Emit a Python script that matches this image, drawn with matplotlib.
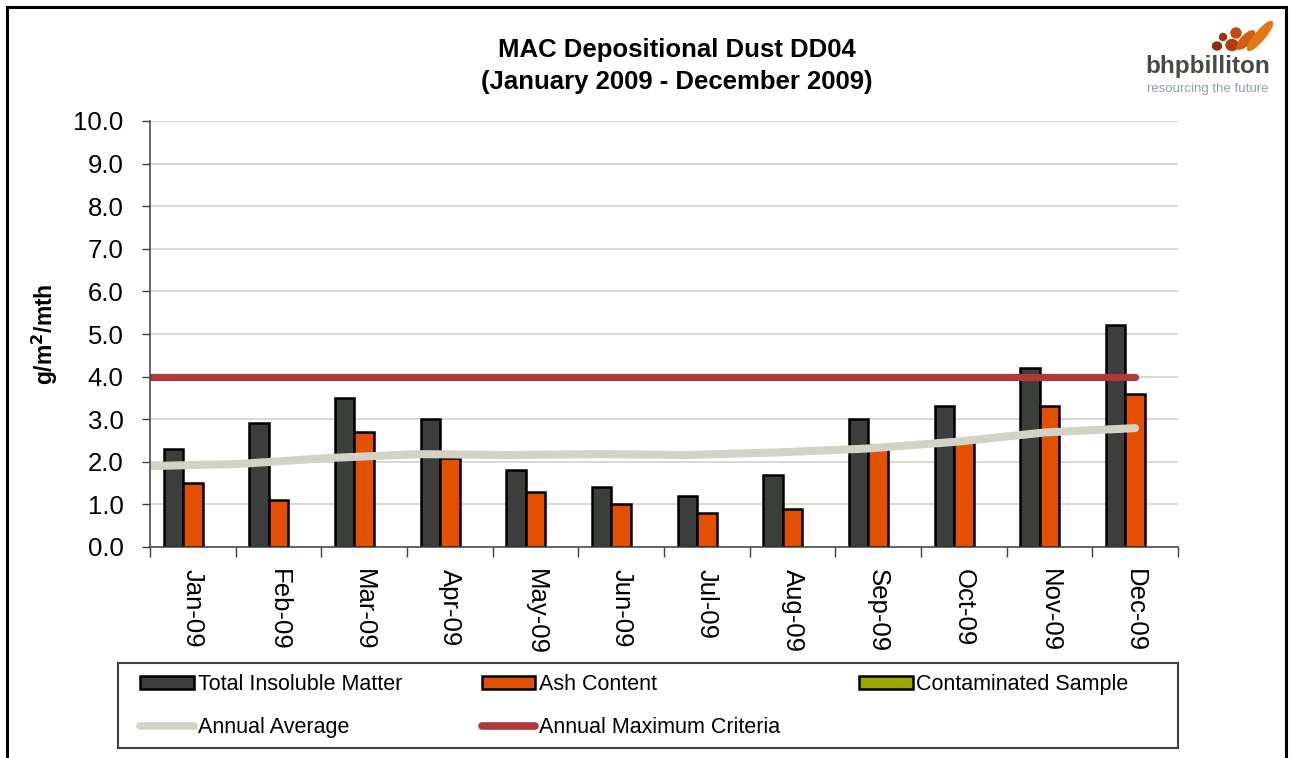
import matplotlib
matplotlib.use("Agg")
import matplotlib.pyplot as plt
import numpy as np
from matplotlib.patches import Patch, Rectangle, Ellipse
from matplotlib.lines import Line2D

plt.rcParams['font.family'] = ['Liberation Sans', 'DejaVu Sans']

months = ["Jan-09", "Feb-09", "Mar-09", "Apr-09", "May-09", "Jun-09",
          "Jul-09", "Aug-09", "Sep-09", "Oct-09", "Nov-09", "Dec-09"]
total_insoluble = [2.3, 2.9, 3.5, 3.0, 1.8, 1.4, 1.2, 1.7, 3.0, 3.3, 4.2, 5.2]
ash_content = [1.5, 1.1, 2.7, 2.1, 1.3, 1.0, 0.8, 0.9, 2.4, 2.5, 3.3, 3.6]
contaminated = [0, 0, 0, 0, 0, 0, 0, 0, 0, 0, 0, 0]
annual_average = [1.90, 1.95, 2.09, 2.18, 2.16, 2.18, 2.16, 2.22, 2.31, 2.47, 2.69, 2.79]
annual_max = [4.0] * 12
yticks = [0, 1, 2, 3, 4, 5, 6, 7, 8, 9, 10]

W, H = 1293, 758
fig = plt.figure(figsize=(W / 100, H / 100), dpi=100)
fig.patch.set_facecolor("white")

# outer frame
fig.patches.append(Rectangle((7 / W, -0.05), (1286 - 7) / W, 1.05 - 7 / H,
                             transform=fig.transFigure, fill=False,
                             edgecolor="black", linewidth=2.2, clip_on=False))

ax = fig.add_axes([150 / W, 1 - 547 / H, (1178 - 150) / W, (547 - 121) / H])

n = len(months)
x = np.arange(n)
bw = 0.228
c_black = "#3c3e3b"
c_orange = "#e25000"
c_green = "#9aa800"

ax.bar(x - bw, total_insoluble, width=bw, color=c_black, edgecolor="black",
       linewidth=1.8, zorder=3)
ax.bar(x, ash_content, width=bw, color=c_orange, edgecolor="black",
       linewidth=1.8, zorder=3)
ax.bar(x + bw, contaminated, width=bw, color=c_green, edgecolor="none",
       linewidth=0, zorder=3)

# lines run from the left axis edge to the December category
xl = np.linspace(-0.5, n - 1, n)
ax.plot(xl, annual_max, color="#ac3a3a", linewidth=5.2, solid_capstyle="round",
        zorder=4)
ax.plot(xl, annual_average, color="#d2d2c6", linewidth=5.8,
        solid_capstyle="round", zorder=4)

ax.set_xlim(-0.5, n - 0.5)
ax.set_ylim(0, 10)
ax.set_yticks(yticks)
ax.set_yticklabels([f"{v:.1f}" for v in yticks], fontsize=18.5)
ax.set_xticks(x)
ax.set_xticklabels(months, rotation=-90, fontsize=18.5, va="top", ha="center")
ax.set_xticks(np.arange(-0.5, n, 1.0), minor=True)
ax.tick_params(axis="x", which="major", length=0, pad=16)
ax.tick_params(axis="x", which="minor", length=7, width=1, color="#404040",
               direction="out")
ax.tick_params(axis="y", length=6, width=1, color="#404040", direction="out",
               pad=13)
ax.grid(axis="y", color="#d9d9cf", linewidth=1.4, zorder=0)
ax.set_axisbelow(True)
for s in ["top", "right"]:
    ax.spines[s].set_visible(False)
for s in ["left", "bottom"]:
    ax.spines[s].set_color("#404040")
    ax.spines[s].set_linewidth(1.1)
    ax.spines[s].set_zorder(5)

ax.set_ylabel("g/m$^{\\mathbf{2}}$/mth", fontsize=16.5, fontweight="bold")
ax.yaxis.set_label_coords((60 - 150) / (1178 - 150), 0.5)

fig.text(677 / W, 1 - 50 / H, "MAC Depositional Dust DD04", ha="center",
         va="center", fontsize=18.5, fontweight="bold")
fig.text(677 / W, 1 - 82 / H, "(January 2009 - December 2009)", ha="center",
         va="center", fontsize=18.5, fontweight="bold")

# logo
fig.text(1208 / W, 1 - 67 / H, "bhpbilliton", ha="center", va="center",
         fontsize=17.5, fontweight="bold", color="#4a4a44")
fig.text(1208 / W, 1 - 89 / H, "resourcing the future", ha="center",
         va="center", fontsize=9.5, color="#8aa0b8")
logo_shapes = [(1217, 46, 9, 8, "#8a2a10", 0), (1223, 37, 7, 7, "#9a3412", 0),
               (1232, 45, 12, 11, "#b03c0e", 0), (1236, 33, 10, 10, "#c24a0f", 0),
               (1246, 40, 11, 20, "#d0600f", -25),
               (1260, 36, 11, 32, "#e07a18", -25)]
for (px, py, ew, eh, col, ang) in logo_shapes:
    e = Ellipse((px / W, 1 - py / H), ew / W, eh / H, color=col,
                transform=fig.transFigure, angle=ang)
    fig.patches.append(e)

# legend frame
fig.patches.append(Rectangle((118 / W, 1 - 748 / H), (1178 - 118) / W,
                             (748 - 663) / H, transform=fig.transFigure,
                             fill=False, edgecolor="#404040", linewidth=1.5))

handles = [
    Patch(facecolor=c_black, edgecolor="black", linewidth=1.8),
    Line2D([0], [0], color="#d2d2c6", linewidth=5.5, solid_capstyle="round"),
    Patch(facecolor=c_orange, edgecolor="black", linewidth=1.8),
    Line2D([0], [0], color="#ac3a3a", linewidth=5.5, solid_capstyle="round"),
    Patch(facecolor=c_green, edgecolor="black", linewidth=1.8),
]
labels = ["Total Insoluble Matter", "Annual Average", "Ash Content",
          "Annual Maximum Criteria", "Contaminated Sample"]
leg = fig.legend(handles, labels, ncol=3,
                 bbox_to_anchor=(134 / W, 1 - 668 / H),
                 loc="upper left", fontsize=15.5, frameon=False,
                 handlelength=2.5, handleheight=0.55,
                 handletextpad=0.15, labelspacing=1.0, borderpad=0.3,
                 columnspacing=3.7, borderaxespad=0)

fig.savefig("out.png", dpi=100, facecolor="white")
